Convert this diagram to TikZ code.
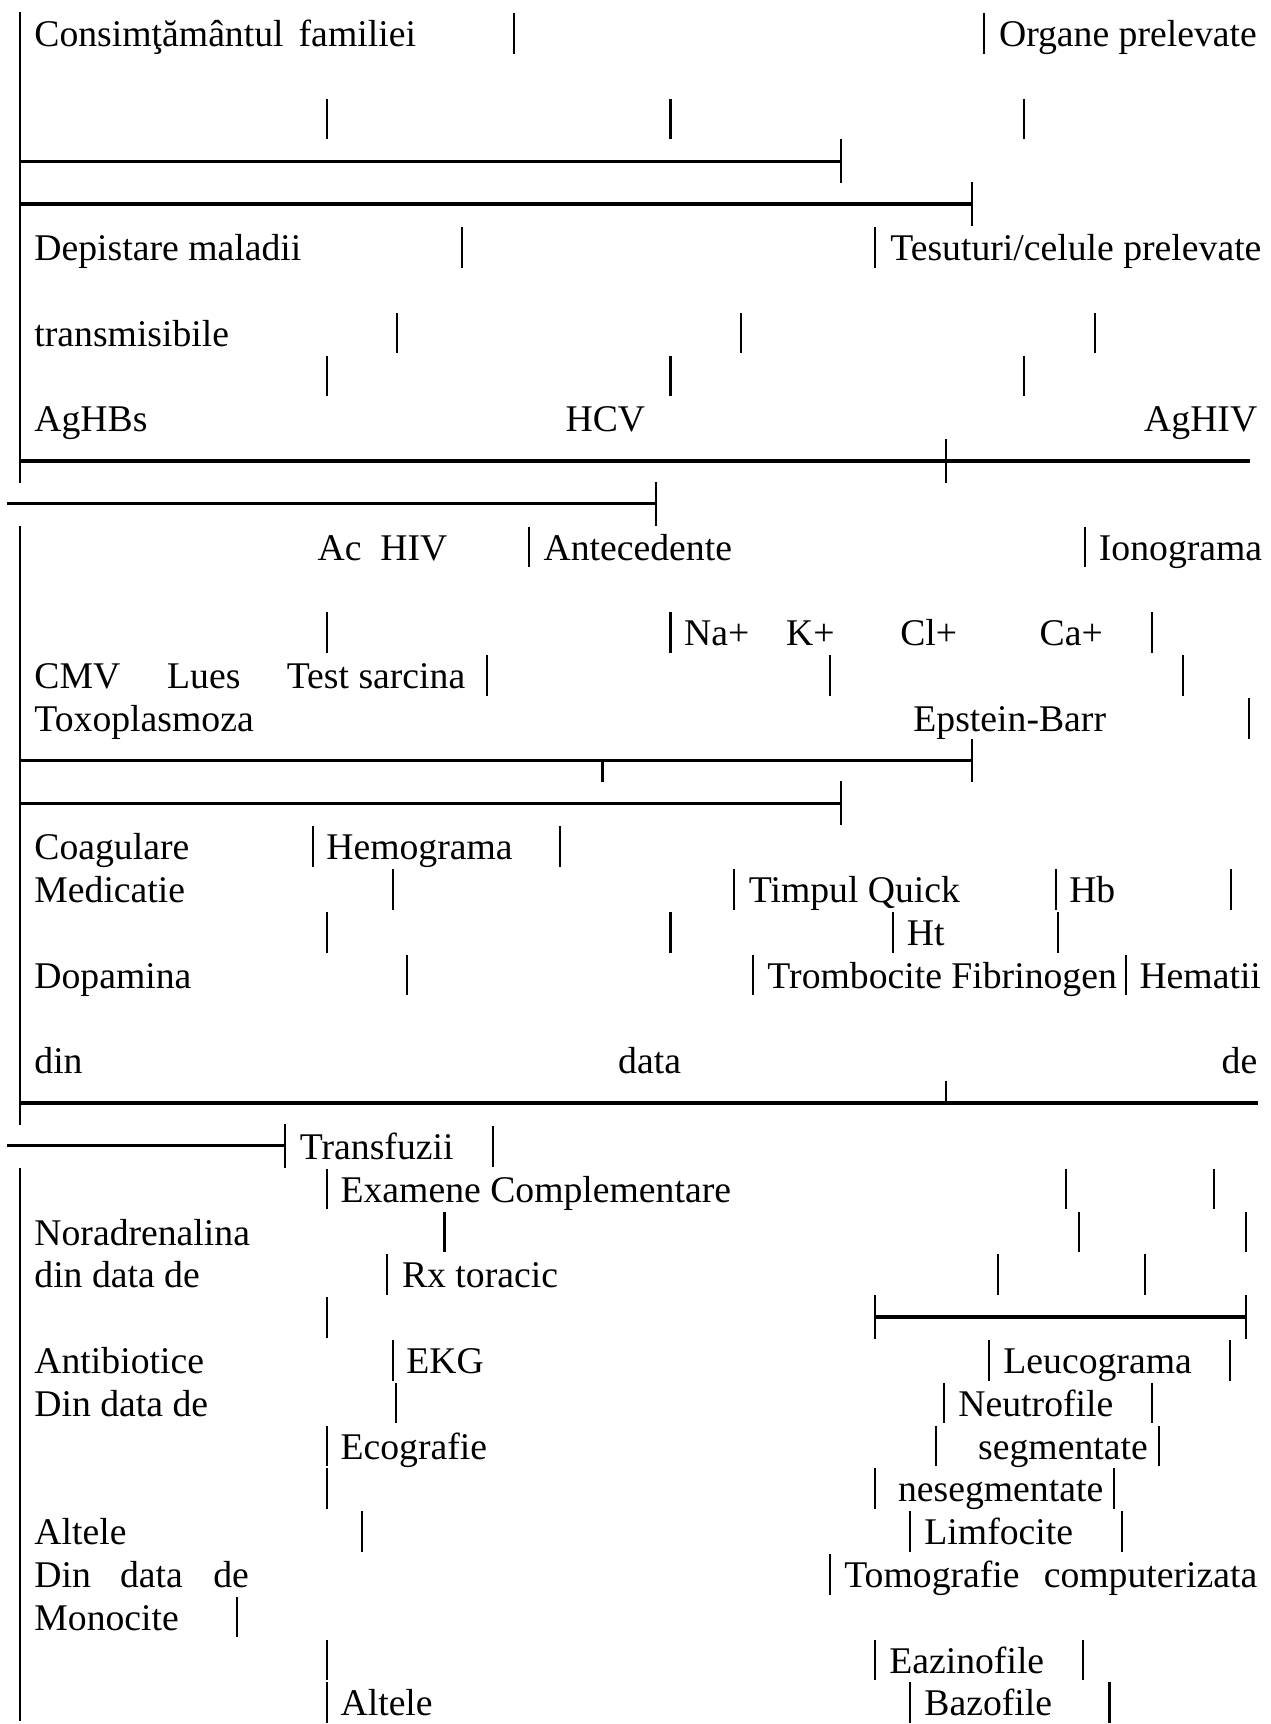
\documentclass[tikz,border=0pt]{standalone}
\usepackage{fontspec}
\setmainfont{Liberation Serif}
\usepackage{xcolor}
\usepackage{tikz}

\begin{document}
\begin{tikzpicture}
    [%%%%%%%%%%%%%%%%%%%%%%%%%%%%%%
        x=0.02cm, y=-0.02cm,
        lbl/.style={anchor=base west, inner sep=0pt, yshift=-0.05cm, font=\fontsize{19.55}{23}\selectfont},
        lblr/.style={lbl, anchor=base east},
        bar/.style={line width=1.1pt},
        rule/.style={line width=1.7pt}
    ]%%%%%%%%%%%%%%%%%%%%%%%%%%%%%%
\fill[white] (0,0) rectangle (1158,1568);

% left margin line
\draw[bar] (18,11) -- (18,440);
\draw[bar] (18,479) -- (18,1025);
\draw[bar] (18,1064) -- (18,1568);

% short separators, x/row
\foreach \x/\r in {468/0, 897/0,
    298/2, 611/2, 933/2,
    421/5, 797/5,
    362/7, 675/7, 998/7,
    298/8, 611/8, 933/8,
    482/12, 989/12,
    298/14, 611/14, 1050/14,
    444/15, 756/15, 1078/15,
    1138/16,
    285/19, 510/19,
    358/20, 669/20, 962/20, 1122/20,
    298/21, 611/21, 814/21, 964/21,
    371/22, 686/22, 1026/22,
    449/26,
    298/27, 971/27, 1106/27,
    405/28, 983/28, 1135/28,
    353/29, 909/29, 1043/29,
    298/30,
    358/31, 901/31, 1121/31,
    361/32, 860/32, 1050/32,
    298/33, 853/33, 1056/33,
    298/34, 797/34, 1015/34,
    330/35, 829/35, 1022/35,
    756/36,
    216/37,
    298/38, 797/38, 987/38,
    298/39, 829/39, 1011/39}{
    \draw[bar] (\x,{12+39*\r}) -- ++(0,37);
}

% horizontal rules with their ticks
\draw[rule] (18,147) -- (766,147);
\draw[bar] (766,127) -- (766,167);
\draw[rule] (18,186) -- (886,186);
\draw[bar] (886,166) -- (886,206);
\draw[rule] (18,420) -- (1139,420);
\draw[bar] (862,400) -- (862,440);
\draw[rule] (6,459) -- (598,459);
\draw[bar] (598,439) -- (598,479);
\draw[rule] (18,693) -- (886,693);
\draw[bar] (886,673) -- (886,713);
\draw[bar] (549,693) -- (549,713);
\draw[rule] (18,732) -- (766,732);
\draw[bar] (766,712) -- (766,752);
\draw[rule] (18,1005) -- (1146,1005);
\draw[bar] (862,985) -- (862,1005);
\draw[rule] (6,1044) -- (260,1044);
\draw[bar] (260,1024) -- (260,1064);
\draw[rule] (797,1200) -- (1135,1200);
\draw[bar] (797,1180) -- (797,1220);
\draw[bar] (1135,1180) -- (1135,1220);

% texts
\node[lbl] (consimt) at (31,40) {Consimţământul\hspace{0.4em}familiei};
\node[lbl] (organe) at (910,40) {Organe prelevate};
\node[lbl] (depist) at (31,235) {Depistare maladii};
\node[lbl] (tesut) at (811,235) {Tesuturi/celule prelevate};
\node[lbl] (transm) at (31,313) {transmisibile};
\node[lbl] (aghbs) at (31,391) {AgHBs};
\node[lbl] (hcv) at (515,391) {HCV};
\node[lblr] (aghiv) at (1146,391) {AgHIV};
\node[lbl] (achiv) at (289,508) {Ac\hspace{0.5em}HIV};
\node[lbl] (antec) at (495,508) {Antecedente};
\node[lbl] (ionog) at (1001,508) {Ionograma};
\node[lbl] (na) at (623,586) {Na+};
\node[lbl] (k) at (716,586) {K+};
\node[lbl] (cl) at (820,586) {Cl+};
\node[lbl] (ca) at (947,586) {Ca+};
\node[lbl] (cmv) at (31,625) {CMV};
\node[lbl] (lues) at (152,625) {Lues};
\node[lbl] (testsarc) at (261,625) {Test sarcina};
\node[lbl] (toxo) at (31,664) {Toxoplasmoza};
\node[lbl] (epstein) at (832,664) {Epstein-Barr};
\node[lbl] (coag) at (31,781) {Coagulare};
\node[lbl] (hemog) at (297,781) {Hemograma};
\node[lbl] (medic) at (31,820) {Medicatie};
\node[lbl] (quick) at (682,820) {Timpul Quick};
\node[lbl] (hb) at (974,820) {Hb};
\node[lbl] (ht) at (826,859) {Ht};
\node[lbl] (dopa) at (31,898) {Dopamina};
\node[lbl] (tromb) at (699,898) {Trombocite Fibrinogen};
\node[lbl] (hemat) at (1038,898) {Hematii};
\node[lbl] (din1) at (31,976) {din};
\node[lbl] (data1) at (563,976) {data};
\node[lblr] (de1) at (1146,976) {de};
\node[lbl] (transf) at (273,1054) {Transfuzii};
\node[lbl] (examene) at (310,1093) {Examene Complementare};
\node[lbl] (noradr) at (31,1132) {Noradrenalina};
\node[lbl] (dindata2) at (31,1171) {din data de};
\node[lbl] (rx) at (366,1171) {Rx toracic};
\node[lbl] (antib) at (31,1249) {Antibiotice};
\node[lbl] (ekg) at (370,1249) {EKG};
\node[lbl] (leuco) at (914,1249) {Leucograma};
\node[lbl] (dindata3) at (31,1288) {Din data de};
\node[lbl] (neutro) at (873,1288) {Neutrofile};
\node[lbl] (ecogr) at (310,1327) {Ecografie};
\node[lbl] (segm) at (891,1327) {segmentate};
\node[lbl] (nesegm) at (818,1366) {nesegmentate};
\node[lbl] (altele1) at (31,1405) {Altele};
\node[lbl] (limfo) at (842,1405) {Limfocite};
\node[lbl] (din4) at (31,1444) {Din};
\node[lbl] (data4) at (109,1444) {data};
\node[lbl] (de4) at (194,1444) {de};
\node[lbl] (tomogr) at (769,1444) {Tomografie};
\node[lblr] (comput) at (1146,1444) {computerizata};
\node[lbl] (monoc) at (31,1483) {Monocite};
\node[lbl] (eazino) at (810,1522) {Eazinofile};
\node[lbl] (altele2) at (310,1561) {Altele};
\node[lbl] (bazo) at (842,1561) {Bazofile};

\end{tikzpicture}
\end{document}
